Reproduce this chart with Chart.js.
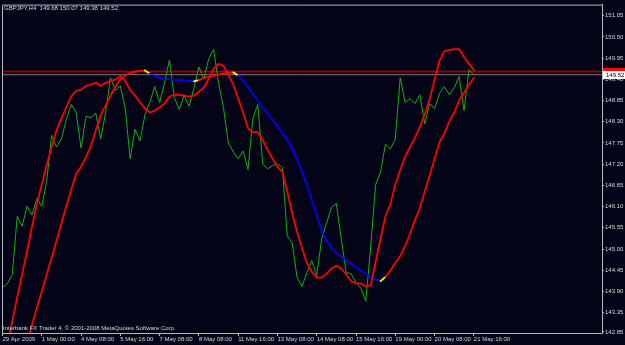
<!DOCTYPE html>
<html>
<head>
<meta charset="utf-8">
<script src="https://cdn.jsdelivr.net/npm/chart.js@4.4.0/dist/chart.umd.min.js"></script>
<style>
  html, body { margin: 0; padding: 0; background: #040418; }
  canvas { display: block; }
</style>
</head>
<body>
<canvas id="mtChart" width="625" height="345"></canvas>
<script>
const headerText = 'GBPJPY,H4  149.68 150.07 149.38 149.52';
const copyrightText = 'Interbank FX Trader 4, \u00a9 2001-2008 MetaQuotes Software Corp.';

// H4 bars, one label every 8 bars
const labelBars = [0, 8, 16, 24, 32, 40, 48, 56, 64, 72, 80, 88, 96];
const timeLabels = ['29 Apr 2009', '1 May 00:00', '4 May 08:00', '5 May 16:00', '7 May 08:00',
    '8 May 08:00', '11 May 16:00', '13 May 08:00', '14 May 08:00', '15 May 16:00',
    '19 May 00:00', '20 May 08:00', '21 May 16:00'];

const priceTicks = [142.85, 143.35, 143.90, 144.45, 145.00, 145.55, 146.10, 146.65,
    147.20, 147.75, 148.30, 148.85, 149.40, 149.95, 150.50, 151.05];

const closes = [
    144.00, 144.11, 144.34, 145.85, 145.59, 146.11, 145.88, 146.31, 146.11, 146.75,
    147.95, 147.65, 147.85, 148.36, 148.75, 148.54, 147.62, 148.44, 148.41, 148.52,
    147.85, 148.54, 149.44, 149.11, 149.23, 148.64, 147.34, 148.11, 147.80, 148.47,
    148.80, 149.21, 148.80, 149.31, 149.90, 148.93, 148.62, 148.98, 148.70, 149.18,
    149.72, 149.41, 149.93, 150.18, 149.31, 148.67, 147.75, 147.52, 147.34, 147.54,
    147.06, 148.39, 148.75, 147.21, 147.08, 147.16, 147.21, 147.11, 145.34, 145.16,
    144.26, 144.03, 144.39, 144.70, 144.31, 145.26, 145.67, 146.08, 146.18, 145.26,
    144.39, 144.36, 144.13, 143.98, 143.65, 145.08, 146.67, 147.00, 147.72, 147.59,
    147.85, 149.44, 148.80, 148.90, 148.77, 149.00, 148.24, 148.77, 148.64, 149.03,
    149.21, 149.00, 149.18, 149.47, 148.59, 149.65, 149.52
];

const fastMA = [
    141.93, 142.52, 143.13, 143.75, 144.34, 144.95, 145.57, 146.18, 146.67, 147.18,
    147.64, 148.08, 148.39, 148.67, 148.95, 149.10, 149.13, 149.23, 149.26, 149.31,
    149.23, 149.31, 149.36, 149.39, 149.49, 149.36, 149.11, 148.98, 148.80, 148.65,
    148.54, 148.59, 148.67, 148.77, 148.95, 149.00, 149.00, 148.98, 148.95, 148.98,
    149.08, 149.18, 149.41, 149.67, 149.80, 149.75, 149.52, 149.26, 148.90, 148.54,
    148.13, 148.03, 148.03, 147.82, 147.57, 147.34, 147.13, 147.00, 146.49, 145.93,
    145.44, 145.03, 144.64, 144.41, 144.26, 144.26, 144.36, 144.49, 144.57, 144.49,
    144.34, 144.16, 144.11, 144.11, 144.03, 144.06, 144.67, 145.26, 145.85, 146.16,
    146.67, 147.05, 147.39, 147.64, 147.88, 148.16, 148.49, 148.88, 149.39, 149.88,
    150.13, 150.16, 150.18, 150.18, 149.98, 149.80, 149.64
];

const slowMA = [
    140.39, 140.82, 141.26, 141.70, 142.13, 142.59, 143.03, 143.47, 143.90, 144.34,
    144.77, 145.21, 145.67, 146.11, 146.54, 146.95, 147.13, 147.39, 147.67, 148.08,
    148.47, 148.72, 148.98, 149.21, 149.40, 149.50, 149.56, 149.60, 149.62, 149.63,
    149.55, 149.48, 149.44, 149.41, 149.40, 149.39, 149.38, 149.37, 149.36, 149.35,
    149.38, 149.43, 149.47, 149.49, 149.53, 149.55, 149.57, 149.58, 149.50, 149.36,
    149.20, 149.02, 148.85, 148.67, 148.51, 148.34, 148.18, 148.00, 147.82, 147.59,
    147.31, 147.00, 146.67, 146.26, 145.88, 145.47, 145.21, 145.03, 144.90, 144.80,
    144.70, 144.62, 144.52, 144.44, 144.36, 144.26, 144.21, 144.17, 144.28, 144.44,
    144.64, 144.82, 145.08, 145.39, 145.75, 146.06, 146.49, 146.90, 147.34, 147.77,
    148.00, 148.31, 148.54, 148.85, 149.05, 149.26, 149.44
];

const bidPrice = 149.52;
const askPrice = 149.61;
const askShadow = 149.585;

const X_MIN = -0.1, X_MAX = 122.1;
const Y_MIN = 142.824, Y_MAX = 151.337;

const toPoints = arr => arr.map((v, i) => ({ x: i, y: v }));
const flatLine = v => [{ x: X_MIN, y: v }, { x: X_MAX, y: v }];

const labelFont = { family: 'Liberation Sans', size: 6 };

// rising = red, falling = blue, turn = yellow
function slowColor(ctx) {
    const i = ctx.p0DataIndex;
    const d = slowMA[i + 1] - slowMA[i];
    const prev = i > 0 ? slowMA[i] - slowMA[i - 1] : d;
    if ((d >= 0) !== (prev >= 0)) return '#ffff00';
    return d >= 0 ? '#ff0000' : '#0000ff';
}

const mtPlugin = {
    id: 'mtPlugin',
    beforeDraw(chart) {
        const ctx = chart.ctx;
        ctx.save();
        ctx.fillStyle = '#040418';
        ctx.fillRect(0, 0, chart.width, chart.height);
        ctx.restore();
    },
    afterDraw(chart) {
        const ctx = chart.ctx;
        const area = chart.chartArea;
        const y = chart.scales.y;
        ctx.save();
        // frame
        ctx.strokeStyle = '#b8b8b8';
        ctx.lineWidth = 1;
        ctx.beginPath();
        ctx.moveTo(area.left + 0.5, area.bottom);
        ctx.lineTo(area.left + 0.5, area.top + 0.5);
        ctx.lineTo(area.right, area.top + 0.5);
        ctx.stroke();

        // price labels on the right
        const askY = Math.round(y.getPixelForValue(askPrice));
        const bidY = Math.round(y.getPixelForValue(bidPrice));
        ctx.fillStyle = '#ff0000';
        ctx.fillRect(area.right + 1, askY - 3, chart.width - area.right, 7);
        ctx.fillStyle = '#ffffff';
        ctx.fillRect(area.right + 1, bidY - 4, chart.width - area.right, 8);
        ctx.font = '6px "Liberation Sans"';
        ctx.textBaseline = 'middle';
        ctx.fillStyle = '#000000';
        ctx.fillText(bidPrice.toFixed(2), area.right + 4, bidY);

        // texts
        ctx.fillStyle = '#d8d8d8';
        ctx.fillText(headerText, 4, 8);
        ctx.fillText(copyrightText, 3, area.bottom - 5);
        ctx.restore();
    }
};

new Chart(document.getElementById('mtChart'), {
    type: 'line',
    data: {
        datasets: [
            { data: flatLine(askPrice), borderColor: '#e00000', borderWidth: 1, order: 9 },
            { data: flatLine(askShadow), borderColor: '#700000', borderWidth: 1, order: 8 },
            { data: flatLine(bidPrice), borderColor: '#7a7a7a', borderWidth: 1, order: 7 },
            { data: toPoints(closes), borderColor: '#10b010', borderWidth: 1, order: 3 },
            { data: toPoints(slowMA), borderColor: '#ff0000', borderWidth: 1.8, order: 2,
              segment: { borderColor: slowColor } },
            { data: toPoints(fastMA), borderColor: '#ff0000', borderWidth: 1.8, order: 1 }
        ]
    },
    options: {
        responsive: false,
        animation: false,
        events: [],
        layout: { padding: { left: 2, top: 1, right: 0, bottom: 0 } },
        elements: {
            point: { radius: 0 },
            line: { tension: 0, borderCapStyle: 'round', borderJoinStyle: 'round' }
        },
        plugins: { legend: { display: false }, tooltip: { enabled: false } },
        scales: {
            x: {
                type: 'linear',
                min: X_MIN,
                max: X_MAX,
                afterBuildTicks: scale => { scale.ticks = labelBars.map(v => ({ value: v })); },
                afterFit: scale => { scale.height = 12; },
                grid: { drawOnChartArea: false, color: '#b8b8b8', tickLength: 3 },
                border: { display: true, color: '#b8b8b8', width: 1 },
                ticks: {
                    autoSkip: false,
                    maxRotation: 0,
                    align: 'start',
                    padding: 0,
                    color: '#d8d8d8',
                    font: labelFont,
                    callback: value => timeLabels[labelBars.indexOf(value)] || ''
                }
            },
            y: {
                position: 'right',
                min: Y_MIN,
                max: Y_MAX,
                afterBuildTicks: scale => { scale.ticks = priceTicks.map(v => ({ value: v })); },
                afterFit: scale => { scale.width = 23; },
                grid: { drawOnChartArea: false, color: '#b8b8b8', tickLength: 2 },
                border: { display: true, color: '#b8b8b8', width: 1 },
                ticks: {
                    padding: 1,
                    color: '#d8d8d8',
                    font: labelFont,
                    callback: value => value.toFixed(2)
                }
            }
        }
    },
    plugins: [mtPlugin]
});
</script>
</body>
</html>
